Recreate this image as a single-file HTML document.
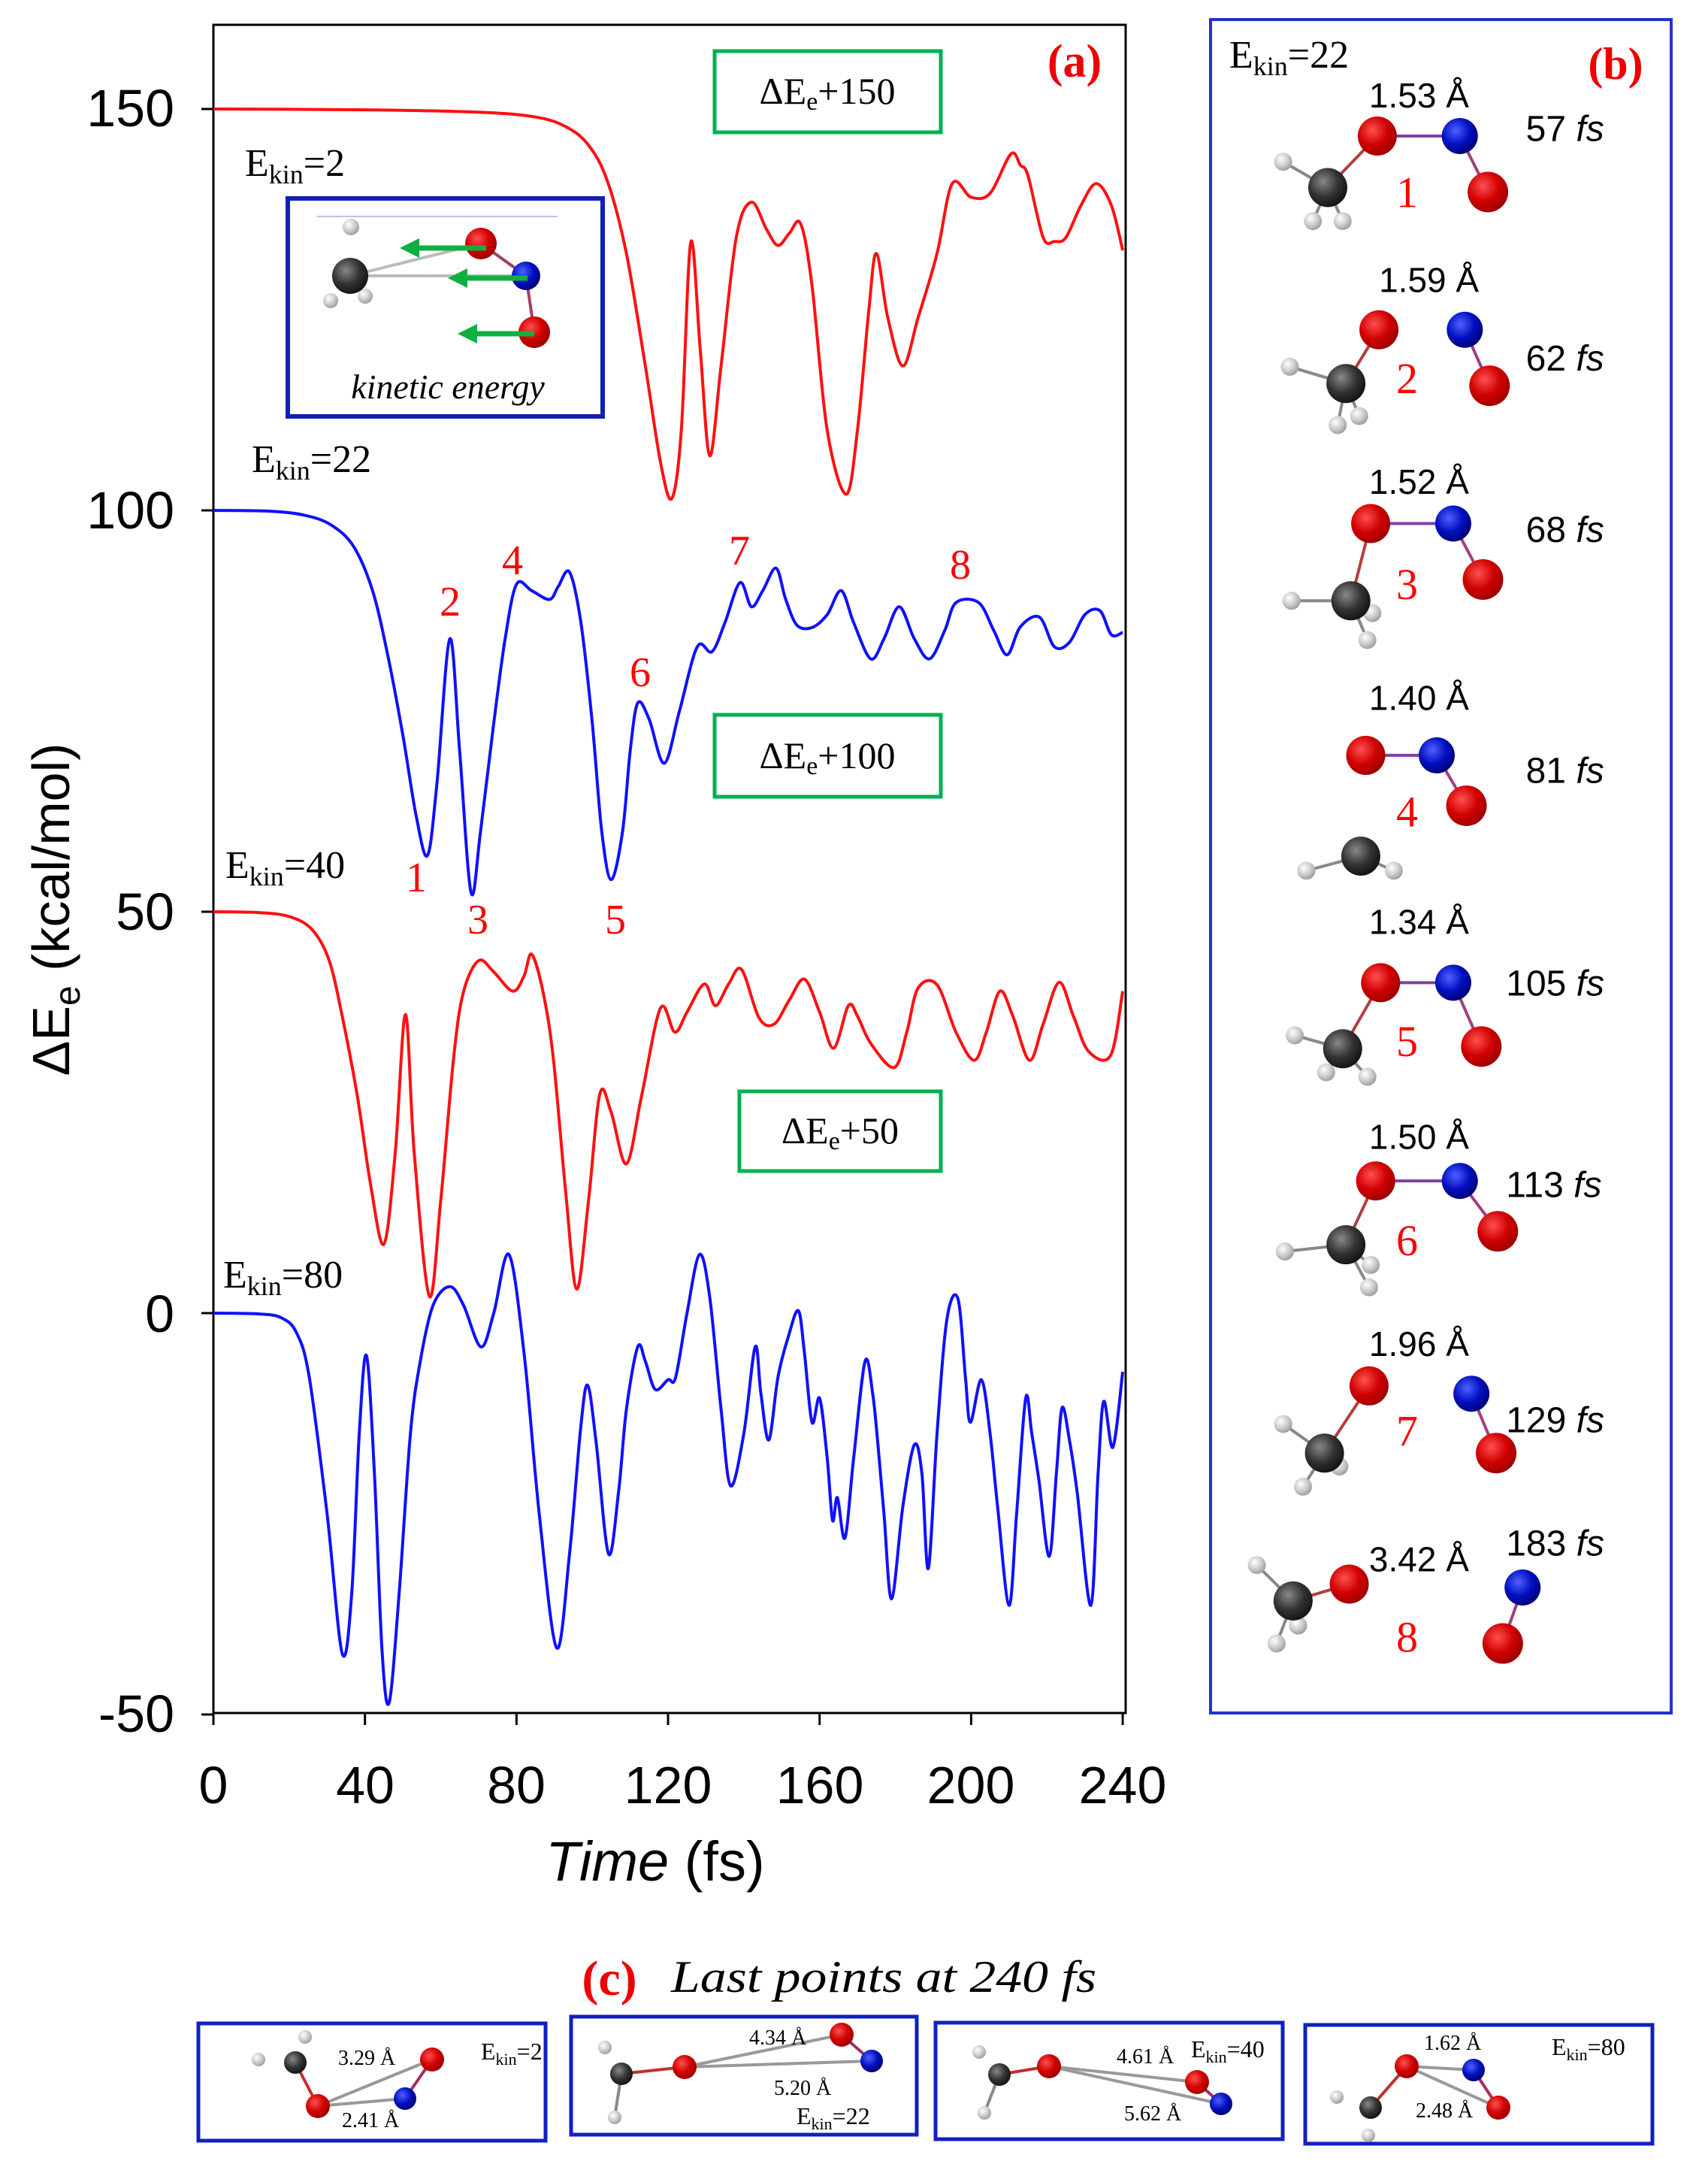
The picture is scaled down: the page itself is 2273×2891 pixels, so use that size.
<!DOCTYPE html>
<html><head><meta charset="utf-8">
<style>
html,body{margin:0;padding:0;background:#fff;}
svg{display:block;}
.tk{font-family:"Liberation Sans",sans-serif;font-size:70px;fill:#000;}
.sf{font-family:"Liberation Serif",serif;}
.ss{font-family:"Liberation Sans",sans-serif;}
</style></head>
<body>
<svg id="s" width="2273" height="2891" viewBox="0 0 2273 2891" xmlns="http://www.w3.org/2000/svg">
<rect width="2273" height="2891" fill="#fff"/>
<rect x="284" y="33" width="1214" height="2246" fill="none" stroke="#000" stroke-width="3"/>
<g id="curves"></g>
<g id="ticks" stroke="#000" stroke-width="3"></g>
<g class="tk" text-anchor="end">
<text x="232" y="168">150</text>
<text x="232" y="703">100</text>
<text x="232" y="1237">50</text>
<text x="232" y="1772">0</text>
<text x="232" y="2304">-50</text>
</g>
<g class="tk" text-anchor="middle">
<text x="284" y="2399">0</text>
<text x="486" y="2399">40</text>
<text x="687" y="2399">80</text>
<text x="889" y="2399">120</text>
<text x="1091" y="2399">160</text>
<text x="1292" y="2399">200</text>
<text x="1494" y="2399">240</text>
</g>
<text x="872" y="2502" text-anchor="middle" class="ss" font-size="74"><tspan font-style="italic">Time</tspan> (fs)</text>
<text transform="translate(92,1210) rotate(-90)" text-anchor="middle" class="ss" font-size="70">ΔE<tspan font-size="48" dy="14">e</tspan><tspan dy="-14"> (kcal/mol)</tspan></text>

<g fill="none" stroke="#00b050" stroke-width="5">
<rect x="951" y="68" width="301" height="108"/>
<rect x="951" y="951" width="301" height="109"/>
<rect x="984" y="1452" width="268" height="106"/>
</g>
<g class="sf" font-size="50" text-anchor="middle">
<text x="1101" y="138">ΔE<tspan font-size="34" dy="8">e</tspan><tspan dy="-8">+150</tspan></text>
<text x="1101" y="1022">ΔE<tspan font-size="34" dy="8">e</tspan><tspan dy="-8">+100</tspan></text>
<text x="1118" y="1521">ΔE<tspan font-size="34" dy="8">e</tspan><tspan dy="-8">+50</tspan></text>
</g>
<text x="1430" y="102" class="sf" font-size="62" font-weight="bold" fill="#e00" text-anchor="middle">(a)</text>

<g class="sf" font-size="52">
<text x="326" y="234">E<tspan font-size="36" dy="10">kin</tspan><tspan dy="-10">=2</tspan></text>
<text x="335" y="628">E<tspan font-size="36" dy="10">kin</tspan><tspan dy="-10">=22</tspan></text>
<text x="300" y="1168">E<tspan font-size="36" dy="10">kin</tspan><tspan dy="-10">=40</tspan></text>
<text x="297" y="1713">E<tspan font-size="36" dy="10">kin</tspan><tspan dy="-10">=80</tspan></text>
</g>

<g class="sf" font-size="56" fill="#f00" text-anchor="middle">
<text x="554" y="1186">1</text><text x="599" y="819">2</text><text x="636" y="1242">3</text>
<text x="682" y="764">4</text><text x="819" y="1242">5</text><text x="852" y="913">6</text>
<text x="984" y="751">7</text><text x="1278" y="770">8</text>
</g>

<rect x="383" y="264" width="419" height="290" fill="#fff" stroke="#1020b0" stroke-width="6"/>
<line x1="422" y1="288" x2="742" y2="288" stroke="#b8c4e8" stroke-width="2"/>
<g id="inset"></g>
<text x="596" y="530" text-anchor="middle" class="sf" font-style="italic" font-size="46">kinetic energy</text>

<rect x="1611" y="26" width="613" height="2253" fill="none" stroke="#2233cc" stroke-width="4"/>
<text x="1636" y="90" class="sf" font-size="52">E<tspan font-size="36" dy="10">kin</tspan><tspan dy="-10">=22</tspan></text>
<text x="2150" y="105" text-anchor="middle" class="sf" font-size="60" font-weight="bold" fill="#e00">(b)</text>
<g id="pb"></g>

<text x="811" y="2654" text-anchor="middle" class="sf" font-size="66" font-weight="bold" fill="#e00">(c)</text>
<text x="893" y="2650" class="sf" font-style="italic" font-size="60" textLength="566" lengthAdjust="spacingAndGlyphs">Last points at 240 fs</text>
<g fill="none" stroke="#1020c0" stroke-width="5">
<rect x="264" y="2692" width="462" height="156"/>
<rect x="760" y="2683" width="460" height="157"/>
<rect x="1245" y="2691" width="462" height="155"/>
<rect x="1737" y="2694" width="462" height="158"/>
</g>
<g id="pc"></g>
<g class="sf" font-size="28">
<text x="450" y="2747">3.29 Å</text><text x="455" y="2830">2.41 Å</text>
<text x="640" y="2740" font-size="32">E<tspan font-size="22" dy="7">kin</tspan><tspan dy="-7">=2</tspan></text>
<text x="997" y="2720">4.34 Å</text><text x="1030" y="2787">5.20 Å</text>
<text x="1060" y="2826" font-size="32">E<tspan font-size="22" dy="7">kin</tspan><tspan dy="-7">=22</tspan></text>
<text x="1486" y="2745">4.61 Å</text><text x="1496" y="2821">5.62 Å</text>
<text x="1585" y="2737" font-size="32">E<tspan font-size="22" dy="7">kin</tspan><tspan dy="-7">=40</tspan></text>
<text x="1895" y="2727">1.62 Å</text><text x="1884" y="2817">2.48 Å</text>
<text x="2065" y="2734" font-size="32">E<tspan font-size="22" dy="7">kin</tspan><tspan dy="-7">=80</tspan></text>
</g>
</svg>
<script>
var NS="http://www.w3.org/2000/svg";
function el(p,n,a){var e=document.createElementNS(NS,n);for(var k in a)e.setAttribute(k,a[k]);p.appendChild(e);return e;}
var X=function(t){return 284+t*5.042;}, Y=function(v){return 1747-v*10.68;};
var tk=document.getElementById('ticks');
[150,100,50,0,-50].forEach(function(v){el(tk,'line',{x1:268,x2:284,y1:Y(v),y2:Y(v)});});
[0,40,80,120,160,200,240].forEach(function(t){el(tk,'line',{x1:X(t),x2:X(t),y1:2279,y2:2295});});
function cr(pts){
 var P=pts.map(function(p){return [X(p[0]),Y(p[1])];});
 var d='M'+P[0][0].toFixed(1)+','+P[0][1].toFixed(1);
 for(var i=0;i<P.length-1;i++){
  var p0=P[Math.max(0,i-1)],p1=P[i],p2=P[i+1],p3=P[Math.min(P.length-1,i+2)];
  var c1=[p1[0]+(p2[0]-p0[0])/6,p1[1]+(p2[1]-p0[1])/6],c2=[p2[0]-(p3[0]-p1[0])/6,p2[1]-(p3[1]-p1[1])/6];
  d+='C'+c1[0].toFixed(1)+','+c1[1].toFixed(1)+' '+c2[0].toFixed(1)+','+c2[1].toFixed(1)+' '+p2[0].toFixed(1)+','+p2[1].toFixed(1);
 }return d;}
var red1=[[0,150],[40,149.9],[70,149.6],[85,149],[93,147.8],[99,145.5],[104,141],[109,132],[114,118],[118,106],[121,101.5],[123.5,110],[126,133.4],[128.5,120],[131,106.8],[134,118],[138,134],[142,138.4],[146,135],[149,133],[152,134.5],[155,135.7],[158,128],[162,110],[167,102],[170,110],[173,125],[175,132],[178,124],[182,118],[186,124],[191,132],[195,140.7],[200,139],[205,139.5],[210.5,144.4],[213,143],[215,141.7],[219,134],[222,133.5],[225,134],[229,138],[233,140.7],[237,138],[240,132.4]];
var blue22=[[0,100],[15,99.9],[24,99.4],[31,98.2],[37,95.5],[42,90],[46,82],[50,72],[53.5,62],[56.5,57],[59,66],[62.4,84],[65,70],[68,52.4],[70.5,60],[74,73.5],[77,84],[80,90.8],[84,90],[88.7,88.9],[91,90.5],[94,92.3],[97,86],[100,73.5],[102.5,60],[105,54],[108,60],[110,70],[112,76],[115,74],[119,68.5],[123,75],[127.7,83],[131.6,82.4],[135,86],[139,91],[142,88],[145,90],[148.5,92.8],[151,89],[154,85.7],[158,85.4],[162,87],[165.7,90],[169,86],[173.5,81.5],[177,84],[181,88],[185,84],[189,81.5],[193,85],[196,88.5],[202,88.5],[206,85],[209.5,82],[213,85.5],[218,86.7],[222,83],[226,83.6],[230,87],[234,87.5],[237,84.5],[240,84.8]];
var red40=[[0,50],[12,49.9],[20,49.4],[26,47.8],[30.5,44],[34,37],[38,27],[41.5,16],[45,8.6],[48,20],[50.7,37.2],[53,20],[57,2.1],[60,14],[63.4,31.8],[66,40],[70,43.9],[74,42.5],[79,40.1],[82,42],[84,44.7],[87,40],[89.7,31.8],[93,15],[95.9,3],[99,14],[102,27.3],[105,25],[109,18.6],[113,27],[118,38],[121.8,35],[125,37.5],[129.6,41],[132.5,38.3],[136,41],[139.4,42.8],[144,36.8],[148,36],[152,39],[156,41.6],[160,37.5],[163.7,33],[167.6,38.3],[170,37],[173.5,33.6],[179.7,30.6],[183,35],[186,40.5],[191,40.9],[196,35],[200.8,31.5],[204,35],[207.6,40.1],[211,37],[215.4,31.5],[219,36],[223.2,41.2],[227,37],[231,32.6],[236.8,32.1],[240,40.1]];
var blue80=[[0,0],[12,-0.1],[18,-0.6],[22,-2.5],[25.3,-8],[30,-25],[34,-42.4],[36.5,-35],[38.5,-15],[40.4,-5.3],[42.5,-20],[44.5,-42],[46.4,-48.5],[49,-35],[52,-15],[54.6,-6],[58,1],[62.4,3.3],[66,1],[70.6,-4.2],[74,0],[78,7.3],[82,-5],[86,-25],[90.6,-41.7],[94,-30],[97,-14],[98.8,-9],[101,-16],[104.3,-30],[107,-22],[109,-12],[112,-4.2],[114,-6],[116.6,-9.5],[120,-8.3],[122,-8],[125,0],[128.3,7.3],[131,2],[134,-12],[136.5,-21.5],[140,-15],[143,-4.2],[144.5,-10],[146.6,-15.8],[149,-8],[151.7,-3],[154.4,0.3],[156,-5],[158,-13.6],[160,-10.6],[162,-18],[163.4,-25.8],[164.7,-23],[166.7,-28],[169,-18],[172,-6],[174,-10],[175.4,-16.4],[177,-25],[179,-35.6],[182,-24],[185,-16.4],[187,-20],[188.7,-31.8],[191,-15],[193.6,-0.8],[196.5,1.8],[198.5,-8],[199.8,-13.6],[202.7,-8.3],[205,-15],[207,-24.2],[210,-36.4],[212,-25],[214.4,-10.6],[216,-15],[217.9,-20.9],[220.6,-30.3],[222.5,-20],[224,-11.8],[226,-16],[228,-22.4],[231.6,-36.4],[233.5,-20],[235,-11],[237.4,-16.7],[240,-7.3]];
var cg=document.getElementById('curves');
[[red1,'#ff1010'],[blue22,'#1010ff'],[red40,'#ff1010'],[blue80,'#1010ff']].forEach(function(c){
 el(cg,'path',{d:cr(c[0]),fill:'none',stroke:c[1],'stroke-width':4,'stroke-linejoin':'round'});});
var col={O:['#ff5050','#d00000','#900'],N:['#5060ff','#0010c0','#000070'],C:['#888','#333','#111'],H:['#fff','#ccc','#999']};
var defs=el(document.getElementById('s'),'defs',{});
for(var k in col){var g=el(defs,'radialGradient',{id:'g'+k,cx:'0.38',cy:'0.35',r:'0.7'});
 el(g,'stop',{offset:'0','stop-color':col[k][0]});el(g,'stop',{offset:'0.55','stop-color':col[k][1]});el(g,'stop',{offset:'1','stop-color':col[k][2]});}
function atom(p,t,x,y,r){el(p,'circle',{cx:x,cy:y,r:r,fill:'url(#g'+t+')'});}
function bond(p,a,b,c){el(p,'line',{x1:a[0],y1:a[1],x2:b[0],y2:b[1],stroke:c||'#a04040','stroke-width':4});}
var ins=document.getElementById('inset');
bond(ins,[466,367],[700,367],'#bbb');bond(ins,[466,367],[640,324],'#bbb');
bond(ins,[700,367],[711,442],'#a04060');bond(ins,[640,324],[700,367],'#a04060');
atom(ins,'H',467,302,11);atom(ins,'H',440,400,10);atom(ins,'H',486,394,10);
atom(ins,'C',466,367,24);atom(ins,'O',640,324,21);atom(ins,'N',700,367,19);atom(ins,'O',711,442,21);
[[647,330,532],[702,370,596],[711,444,609]].forEach(function(a){
 el(ins,'line',{x1:a[0],y1:a[1],x2:a[2]+18,y2:a[1],stroke:'#10b040','stroke-width':7});
 el(ins,'polygon',{points:(a[2])+','+a[1]+' '+(a[2]+26)+','+(a[1]-13)+' '+(a[2]+26)+','+(a[1]+13),fill:'#10b040'});});
var pb=document.getElementById('pb');
function bx(zx){return 1611+(zx-90)*0.4394;} function by(zy){return 26+(zy-18)*1.49;}
var rows=[
 {d:'1.53 Å',dl:[570,85],f:'57',fl:[1045,115],n:'1',nl:[685,172],O:[595,122],N:[845,122],O2:[930,172],C:[445,168],H:[[310,145],[400,198],[490,198]],b:1},
 {d:'1.59 Å',dl:[600,250],f:'62',fl:[1045,320],n:'2',nl:[685,338],O:[600,295],N:[860,295],O2:[935,345],C:[500,343],H:[[330,328],[475,380],[540,372]],b:0},
 {d:'1.52 Å',dl:[570,430],f:'68',fl:[1045,473],n:'3',nl:[685,522],O:[575,468],N:[825,468],O2:[915,518],C:[515,537],H:[[335,537],[580,548],[565,572]],b:1},
 {d:'1.40 Å',dl:[570,623],f:'81',fl:[1045,688],n:'4',nl:[685,725],O:[560,675],N:[775,675],O2:[865,720],C:[545,765],H:[[380,778],[645,778]],b:1,nc:1},
 {d:'1.34 Å',dl:[570,823],f:'105',fl:[985,878],n:'5',nl:[685,930],O:[605,878],N:[825,878],O2:[910,935],C:[490,937],H:[[345,925],[440,958],[565,962]],b:1},
 {d:'1.50 Å',dl:[570,1015],f:'113',fl:[985,1058],n:'6',nl:[685,1108],O:[590,1055],N:[845,1055],O2:[960,1100],C:[500,1112],H:[[315,1118],[575,1130],[570,1150]],b:1},
 {d:'1.96 Å',dl:[570,1200],f:'129',fl:[985,1268],n:'7',nl:[685,1278],O:[570,1238],N:[880,1245],O2:[955,1298],C:[435,1298],H:[[310,1272],[370,1328],[480,1310]],b:0},
 {d:'3.42 Å',dl:[570,1392],f:'183',fl:[985,1378],n:'8',nl:[685,1462],O:[510,1415],N:[1035,1418],O2:[975,1468],C:[340,1430],H:[[230,1398],[290,1468],[355,1452]],b:0}];
function P(z){return [bx(z[0]),by(z[1])];}
rows.forEach(function(r){
 var O=P(r.O),N=P(r.N),O2=P(r.O2),C=P(r.C);
 if(!r.nc)bond(pb,C,O,'#b04040');
 r.H.forEach(function(h){bond(pb,C,P(h),'#888');});
 if(r.b)bond(pb,O,N,'#8040a0');bond(pb,N,O2,'#a04080');
 r.H.forEach(function(h){var q=P(h);atom(pb,'H',q[0],q[1],12);});
 atom(pb,'C',C[0],C[1],26);atom(pb,'O',O[0],O[1],26);atom(pb,'N',N[0],N[1],24);atom(pb,'O',O2[0],O2[1],27);
 var t=el(pb,'text',{x:bx(r.dl[0]),y:by(r.dl[1])+17,'class':'ss','font-size':46});t.textContent=r.d;
 t=el(pb,'text',{x:bx(r.fl[0]),y:by(r.fl[1])+17,'class':'ss','font-size':48});
 t.appendChild(document.createTextNode(r.f+' '));var ts=el(t,'tspan',{'font-style':'italic'});ts.textContent='fs';
 t=el(pb,'text',{x:bx(r.nl[0]),y:by(r.nl[1])+20,'class':'sf','font-size':58,fill:'#f00','text-anchor':'middle'});t.textContent=r.n;
});
var pc=document.getElementById('pc');
function mol(a){
 a.lines.forEach(function(l){bond(pc,l[0],l[1],l[2]);});
 a.H.forEach(function(h){atom(pc,'H',h[0],h[1],9);});
 atom(pc,'C',a.C[0],a.C[1],15);atom(pc,'O',a.O[0],a.O[1],16);atom(pc,'O',a.O2[0],a.O2[1],16);atom(pc,'N',a.N[0],a.N[1],15);}
var g='#999';
mol({C:[393,2744],H:[[406,2710],[344,2740]],O:[423,2802],O2:[575,2740],N:[539,2792],lines:[[[393,2744],[423,2802],'#c03030'],[[423,2802],[575,2740],g],[[423,2802],[539,2792],g],[[539,2792],[575,2740],'#a03060']]});
mol({C:[827,2759],H:[[805,2724],[818,2817]],O:[911,2750],O2:[1120,2707],N:[1160,2742],lines:[[[827,2759],[911,2750],'#c03030'],[[911,2750],[1120,2707],g],[[911,2750],[1160,2742],g],[[1120,2707],[1160,2742],'#a03060'],[[827,2759],[818,2817],'#888']]});
mol({C:[1330,2760],H:[[1303,2730],[1310,2811]],O:[1396,2749],O2:[1593,2770],N:[1625,2799],lines:[[[1330,2760],[1396,2749],'#c03030'],[[1396,2749],[1593,2770],g],[[1396,2749],[1625,2799],g],[[1593,2770],[1625,2799],'#a03060'],[[1330,2760],[1310,2811],'#888']]});
mol({C:[1824,2804],H:[[1779,2790],[1821,2841]],O:[1872,2749],O2:[1994,2804],N:[1961,2754],lines:[[[1824,2804],[1872,2749],'#c03030'],[[1872,2749],[1961,2754],g],[[1872,2749],[1994,2804],g],[[1961,2754],[1994,2804],'#a03060']]});
</script>
</body></html>
